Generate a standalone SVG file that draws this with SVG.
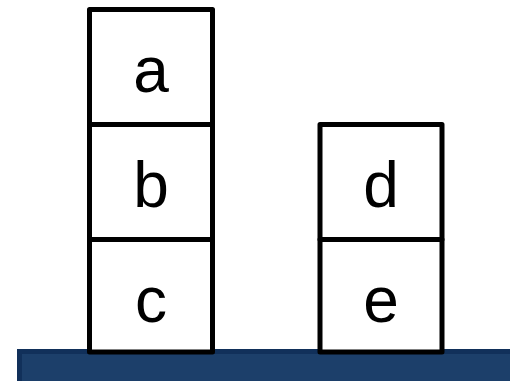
<svg xmlns="http://www.w3.org/2000/svg" width="510" height="381" viewBox="0 0 510 381">
<style>
.blk{fill:#ffffff;stroke:#000000;stroke-width:5;stroke-linejoin:round}
.lbl{font-family:"Liberation Sans",Arial,sans-serif;font-size:64px;fill:#000000;text-anchor:middle}
</style>
<rect width="510" height="381" fill="#ffffff"/>
<g id="table">
<rect x="19.5" y="351.5" width="500" height="40" fill="#1c3f6a" stroke="#11305a" stroke-width="5"/>
</g>
<g id="c"><rect class="blk" x="89.5" y="239.5" width="123" height="112.5"/><text class="lbl" x="151" y="322">c</text></g>
<g id="b"><rect class="blk" x="89.5" y="124.5" width="123" height="115"/><text class="lbl" x="151" y="207">b</text></g>
<g id="a"><rect class="blk" x="89.5" y="9.5" width="123" height="115"/><text class="lbl" x="151" y="92">a</text></g>
<g id="e"><rect class="blk" x="320" y="239.5" width="122" height="112.5"/><text class="lbl" x="381" y="322">e</text></g>
<g id="d"><rect class="blk" x="320" y="124.5" width="122" height="115"/><text class="lbl" x="381" y="207">d</text></g>
<g id="connectors"></g>
</svg>
